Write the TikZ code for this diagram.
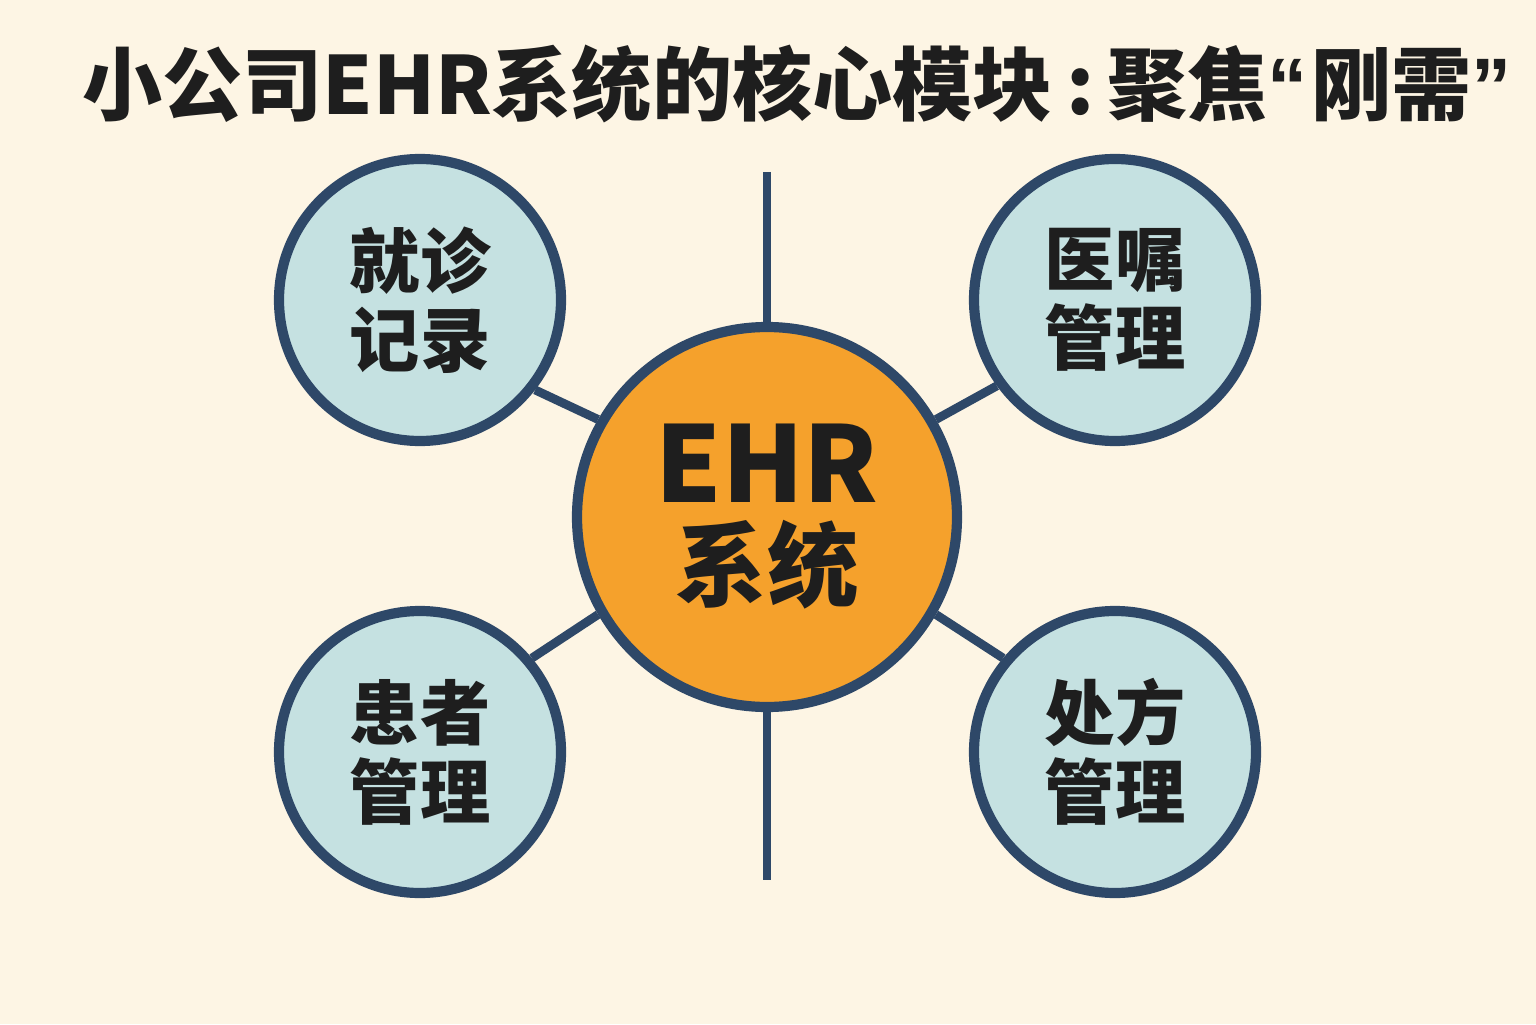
\documentclass[tikz,border=0pt]{standalone}
\usepackage{fontspec}
\setmainfont{Noto Sans CJK SC}
\newfontfamily\latinq{Liberation Sans}
\begin{document}
\begin{tikzpicture}[
	mod/.style={circle, draw=navy, fill=lblue, line width=2.9pt, minimum size=2.82cm, inner sep=0pt, align=center, font=\fontsize{20}{22.5}\selectfont\bfseries, text=ink},
	hub/.style={circle, draw=navy, fill=hubor, line width=2.9pt, minimum size=3.8cm, inner sep=0pt, align=center, text=ink},
	link/.style={draw=navy, line width=2.5pt}
]
	\definecolor{bgcol}{RGB}{253,245,228}
	\definecolor{navy}{RGB}{46,72,104}
	\definecolor{lblue}{RGB}{197,225,225}
	\definecolor{hubor}{RGB}{245,161,44}
	\definecolor{ink}{RGB}{30,30,30}

%Hintergrund
	\fill[bgcol] (0,0) rectangle (15.36,10.24);
	\useasboundingbox (0,0) rectangle (15.36,10.24);

%Titel
	\node[text=ink, font=\fontsize{22.8}{26}\selectfont\bfseries] (title) at (7.97,9.40) {小公司EHR系统的核心模块\,:\,聚焦{\latinq\bfseries “}\kern1pt 刚需{\latinq\bfseries ”}};

%Module
	\node[hub] (ehr) at (7.67,5.07) {{\fontsize{30}{30}\selectfont\bfseries EHR}\\[4pt]{\fontsize{26}{28}\selectfont\bfseries 系统}};
	\node[mod] (jzjl) at (4.20,7.24) {就诊\\记录};
	\node[mod] (yzgl) at (11.15,7.24) {医嘱\\管理};
	\node[mod] (hzgl) at (4.20,2.72) {患者\\管理};
	\node[mod] (cfgl) at (11.15,2.72) {处方\\管理};

%Linien
	\coordinate (topend) at (7.67,8.52);
	\coordinate (botend) at (7.67,1.44);
	\draw[link] (topend) -- (ehr.north);
	\draw[link] (ehr.south) -- (botend);
	\draw[link] (ehr.150) -- (jzjl.-38);
	\draw[link] (ehr.30) -- (yzgl.216);
	\draw[link] (ehr.210) -- (hzgl.40);
	\draw[link] (ehr.-30) -- (cfgl.140);

\end{tikzpicture}
\end{document}
